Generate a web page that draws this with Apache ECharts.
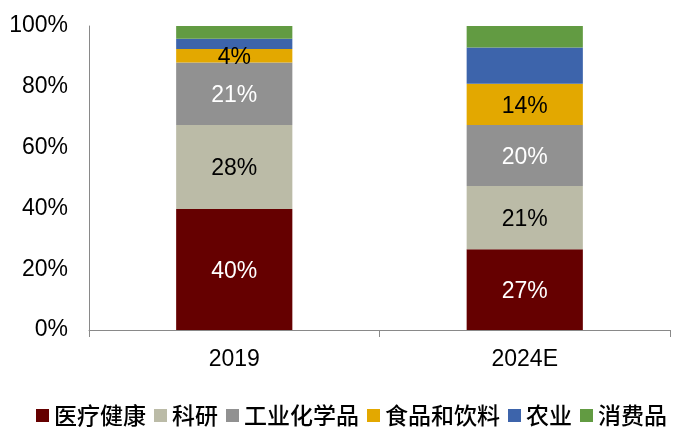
<!DOCTYPE html>
<html>
<head>
<meta charset="utf-8">
<script src="https://cdn.jsdelivr.net/npm/echarts@6/dist/echarts.min.js"></script>
<style>
html,body{margin:0;padding:0;background:#fff;}
#chart{width:680px;height:435px;}
</style>
</head>
<body>
<div id="chart"></div>
<script>
const categories = ['2019', '2024E'];
const seriesNames = ['医疗健康', '科研', '工业化学品', '食品和饮料', '农业', '消费品'];
const healthcare = [39.8, 26.6];
const research = [27.6, 20.8];
const chemicals = [20.6, 20.0];
const foodBeverage = [4.4, 13.6];
const agriculture = [3.4, 11.9];
const consumer = [4.2, 7.1];
const yTicks = [0, 20, 40, 60, 80, 100];

const values = [healthcare, research, chemicals, foodBeverage, agriculture, consumer];
const colors = ['#650000', '#BBBBA7', '#919191', '#E3A800', '#3D64AB', '#629B42'];
const labelColors = ['#ffffff', '#000000', '#ffffff', '#000000', null, null];
const fontLatin = '"Liberation Sans", Arial, "Noto Sans CJK SC", sans-serif';
const fontCJK = '"Noto Sans CJK SC", "Liberation Sans", sans-serif';

const chart = echarts.init(document.getElementById('chart'));
chart.setOption({
  animation: false,
  backgroundColor: '#ffffff',
  grid: { left: 89, right: 10, top: 26, bottom: 105 },
  legend: {
    data: seriesNames,
    left: 31,
    top: 399,
    icon: 'rect',
    itemWidth: 13,
    itemHeight: 13,
    itemGap: 8,
    textStyle: { fontFamily: fontCJK, fontSize: 23, color: '#000000', fontWeight: 500 }
  },
  xAxis: {
    type: 'category',
    data: categories,
    axisLine: { show: true, lineStyle: { color: '#898989', width: 1 } },
    axisTick: { show: true, length: 7, lineStyle: { color: '#898989' } },
    axisLabel: { fontFamily: fontLatin, fontSize: 23, color: '#000000', margin: 18 }
  },
  yAxis: {
    type: 'value',
    min: yTicks[0],
    max: yTicks[yTicks.length - 1],
    interval: 20,
    axisLine: { show: true, lineStyle: { color: '#898989', width: 1 } },
    axisTick: { show: false },
    splitLine: { show: false },
    axisLabel: { fontFamily: fontLatin, fontSize: 23, color: '#000000', margin: 21, padding: [5, 0, 0, 0], formatter: '{value}%' }
  },
  series: seriesNames.map((name, i) => ({
    name: name,
    type: 'bar',
    stack: 'total',
    barWidth: '40%',
    data: values[i],
    itemStyle: { color: colors[i] },
    label: {
      show: labelColors[i] !== null,
      position: 'inside',
      offset: [0, 2],
      fontFamily: fontLatin,
      fontSize: 23,
      color: labelColors[i] || '#000',
      formatter: p => Math.round(p.value) + '%'
    }
  }))
});
</script>
</body>
</html>
